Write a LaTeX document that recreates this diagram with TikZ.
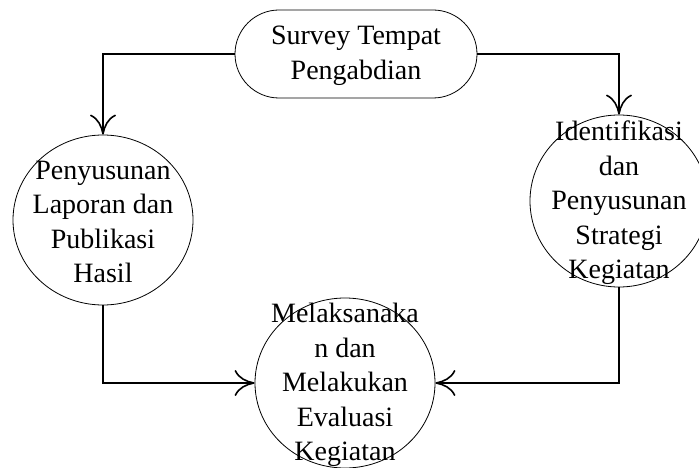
\documentclass[tikz,border=0pt]{standalone}
\usepackage{fontspec}
\setmainfont{Liberation Serif}
\usetikzlibrary{arrows.meta,shapes.geometric}
\begin{document}
\begin{tikzpicture}[x=1pt,y=-1pt,
  shapebox/.style={draw=black,line width=0.8pt,fill=none,inner sep=0pt},
  ovalnode/.style={shapebox,ellipse,minimum width=180pt,minimum height=170pt},
  txt/.style={align=center,inner sep=0pt,font=\fontsize{28}{34.5}\selectfont,yshift=-2pt},
  conn/.style={line width=2pt,-{Computer Modern Rightarrow[length=20pt,width=26pt,line width=1.6pt]}}
]
\useasboundingbox (0,0) rectangle (699,468);
\clip (0,0) rectangle (699,468);
% shapes
\node[shapebox,rounded corners=44pt,minimum width=242pt,minimum height=88pt] (top) at (356,54) {};
\node[ovalnode] (left) at (103,220) {};
\node[ovalnode,minimum width=178pt,minimum height=172pt] (right) at (619,201) {};
\node[ovalnode] (bottom) at (345,383) {};
% texts
\node[txt] (toptxt) at (top) {Survey Tempat\\Pengabdian};
\node[txt] (lefttxt) at (left) {Penyusunan\\Laporan dan\\Publikasi\\Hasil};
\node[txt] (righttxt) at (right) {Identifikasi\\dan\\Penyusunan\\Strategi\\Kegiatan};
\node[txt] (bottomtxt) at (bottom) {Melaksanaka\\n dan\\Melakukan\\Evaluasi\\Kegiatan};
% connectors
\draw[conn] (top.west) -| (left.north);
\draw[conn] (top.east) -| (right.north);
\draw[conn] (left.south) |- (bottom.west);
\draw[conn] (right.south) |- (bottom.east);
\end{tikzpicture}
\end{document}
